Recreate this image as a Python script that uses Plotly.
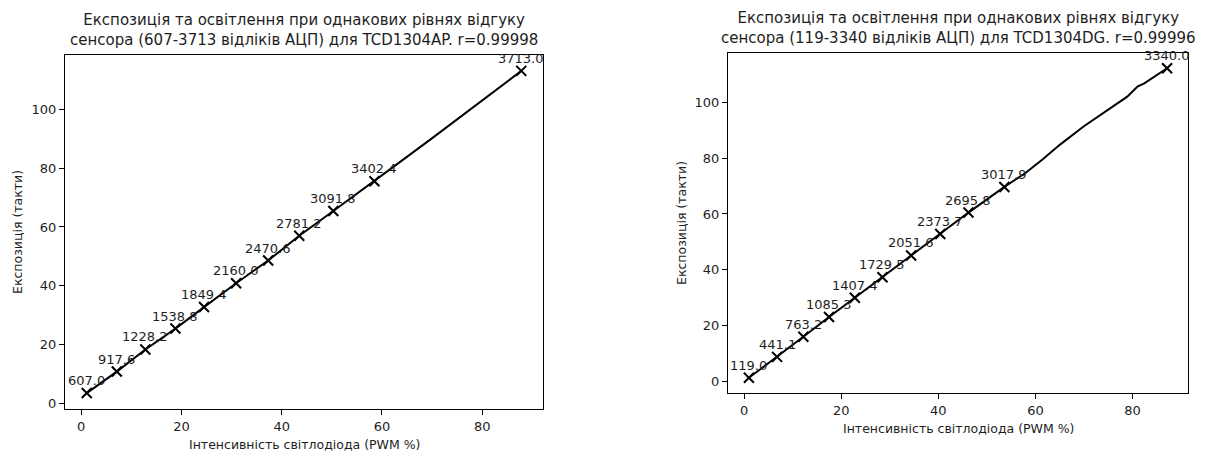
import plotly.graph_objects as go

# TCD1304AP: marker points (PWM %, exposure ticks) and ADC level labels
ap_pwm = [1.1, 7.1, 12.8, 18.8, 24.5, 30.9, 37.3, 43.5, 50.3, 58.5, 87.8]
ap_exp = [3.6, 10.9, 18.4, 25.5, 32.8, 40.9, 48.6, 57.0, 65.4, 75.5, 113.0]
ap_adc = [607.0, 917.6, 1228.2, 1538.8, 1849.4, 2160.0, 2470.6, 2781.2, 3091.8, 3402.4, 3713.0]
# TCD1304AP: measured curve
ap_line_pwm = [1.1, 7.1, 12.8, 18.8, 24.5, 30.9, 37.3, 43.5, 50.3, 58.5, 63.7, 70.3, 77.0, 80.3, 81.7, 85.0, 87.8]
ap_line_exp = [3.6, 10.9, 18.4, 25.5, 32.8, 40.9, 48.6, 57.0, 65.4, 75.5, 82.2, 90.5, 99.1, 103.1, 105.1, 109.2, 113.0]

# TCD1304DG: marker points and ADC level labels
dg_pwm = [1.0, 6.8, 12.2, 17.5, 22.8, 28.5, 34.4, 40.4, 46.2, 53.6, 87.1]
dg_exp = [1.2, 8.7, 15.9, 23.0, 29.9, 37.3, 45.1, 52.8, 60.5, 69.7, 112.3]
dg_adc = [119.0, 441.1, 763.2, 1085.3, 1407.4, 1729.5, 2051.6, 2373.7, 2695.8, 3017.9, 3340.0]
# TCD1304DG: measured curve
dg_line_pwm = [1.0, 6.8, 12.2, 17.5, 22.8, 28.5, 34.4, 40.4, 46.2, 53.6, 58.0, 61.5, 65.0, 69.9, 78.9, 81.0, 82.4, 87.1]
dg_line_exp = [1.2, 8.7, 15.9, 23.0, 29.9, 37.3, 45.1, 52.8, 60.5, 69.7, 74.8, 79.6, 84.8, 91.4, 102.1, 105.7, 106.9, 112.3]

titles = [
    "Експозиція та освітлення при однакових рівнях відгуку<br>сенсора (607-3713 відліків АЦП) для TCD1304AP. r=0.99998",
    "Експозиція та освітлення при однакових рівнях відгуку<br>сенсора (119-3340 відліків АЦП) для TCD1304DG. r=0.99996",
]
x_title = "Інтенсивність світлодіода (PWM %)"
y_title = "Експозиція (такти)"

W, H = 1211, 453
FONT = "DejaVu Sans"
TXT = "#1e1e1e"

fig = go.Figure()

panels = [
    dict(xa="x", ya="y", lx=ap_line_pwm, ly=ap_line_exp, mx=ap_pwm, my=ap_exp, lab=ap_adc,
         px=(65, 543), py=(55, 411)),
    dict(xa="x2", ya="y2", lx=dg_line_pwm, ly=dg_line_exp, mx=dg_pwm, my=dg_exp, lab=dg_adc,
         px=(728, 1188), py=(53, 395)),
]

annotations = []
for i, p in enumerate(panels):
    fig.add_trace(go.Scatter(x=p["lx"], y=p["ly"], mode="lines", xaxis=p["xa"], yaxis=p["ya"],
                             line=dict(color="black", width=2), showlegend=False, hoverinfo="skip"))
    fig.add_trace(go.Scatter(x=p["mx"], y=p["my"], mode="markers", xaxis=p["xa"], yaxis=p["ya"],
                             marker=dict(symbol="x-thin", size=10, color="black",
                                         line=dict(color="black", width=2)),
                             showlegend=False))
    for xv, yv, lv in zip(p["mx"], p["my"], p["lab"]):
        annotations.append(dict(x=xv, y=yv, xref=p["xa"], yref=p["ya"], text=f"{lv:.1f}",
                                showarrow=False, xanchor="center", yanchor="bottom", yshift=3,
                                font=dict(family=FONT, size=13, color=TXT)))
    x0, x1 = p["px"]
    y0, y1 = p["py"]
    cx = (x0 + x1) / 2 / W
    annotations.append(dict(x=cx, y=1 - (y0 - 4) / H, xref="paper", yref="paper", text=titles[i],
                            showarrow=False, xanchor="center", yanchor="bottom",
                            font=dict(family=FONT, size=15, color=TXT)))
    annotations.append(dict(x=cx, y=1 - (y1 + 26) / H, xref="paper", yref="paper", text=x_title,
                            showarrow=False, xanchor="center", yanchor="top",
                            font=dict(family=FONT, size=12.5, color=TXT)))
    annotations.append(dict(x=(x0 - 47) / W, y=1 - (y0 + y1) / 2 / H, xref="paper", yref="paper",
                            text=y_title, textangle=-90, showarrow=False, xanchor="center",
                            yanchor="middle", font=dict(family=FONT, size=12.5, color=TXT)))

def axis_style(domain, rng, dtick):
    return dict(domain=domain, range=rng, dtick=dtick, tick0=0, showgrid=False, zeroline=False,
                showline=True, linecolor="black", linewidth=1, mirror=True, ticks="outside",
                ticklen=5, tickcolor="black", tickwidth=1,
                tickfont=dict(family=FONT, size=13, color=TXT))

def xr(vals):
    d = max(vals) - min(vals)
    return [min(vals) - 0.05 * d, max(vals) + 0.05 * d]

fig.update_layout(
    width=W, height=H,
    margin=dict(l=0, r=0, t=0, b=0),
    paper_bgcolor="white", plot_bgcolor="white",
    xaxis=axis_style([65 / W, 543 / W], xr(ap_line_pwm), 20),
    yaxis=axis_style([1 - 411 / H, 1 - 55 / H], xr(ap_line_exp), 20),
    xaxis2=axis_style([728 / W, 1188 / W], xr(dg_line_pwm), 20),
    yaxis2=axis_style([1 - 395 / H, 1 - 53 / H], xr(dg_line_exp), 20),
    annotations=annotations,
)
fig.layout.xaxis2.anchor = "y2"
fig.layout.yaxis2.anchor = "x2"

fig.write_html("out.html")
